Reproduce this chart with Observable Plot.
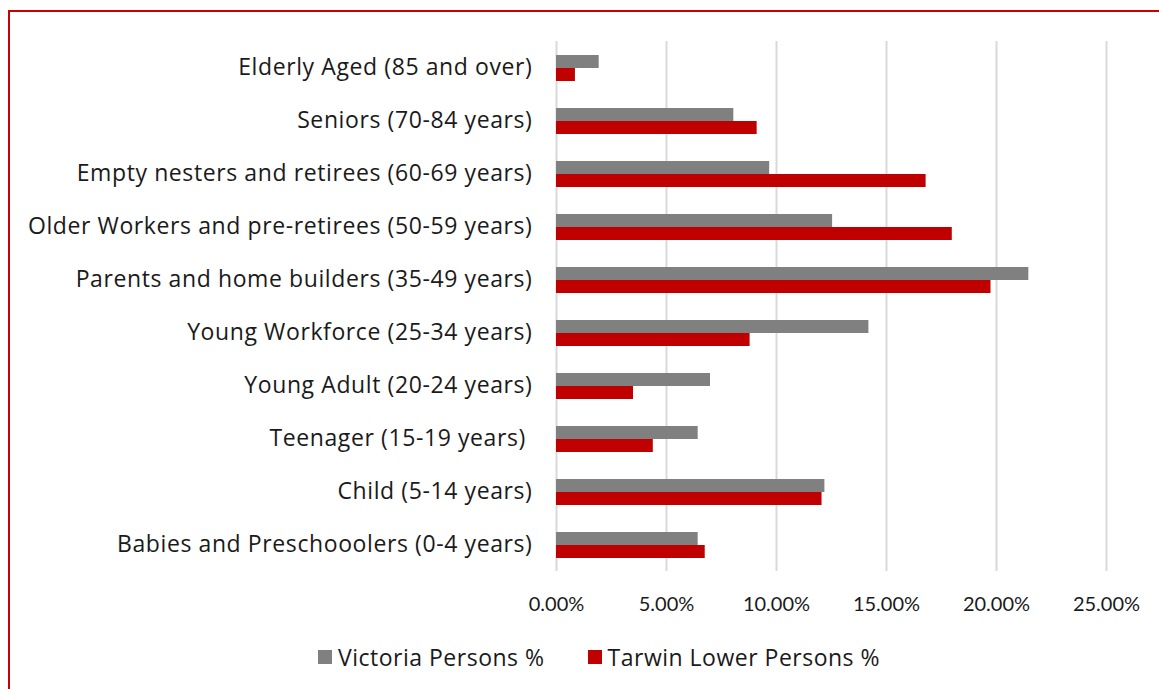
<!DOCTYPE html>
<html>
<head>
<meta charset="utf-8">
<script src="https://cdn.jsdelivr.net/npm/d3@7"></script>
<script src="https://cdn.jsdelivr.net/npm/@observablehq/plot@0.6"></script>
<style>
  html, body { margin: 0; padding: 0; background: #fff; overflow: hidden; width: 1159px; height: 689px; }
  #frame { position: absolute; left: 8px; top: 10px; width: 1170px; height: 700px; border: 2px solid #cc0000; box-sizing: border-box; }
  #chart { position: absolute; left: 0; top: 0; }
  #chart svg g[aria-label="fy-axis tick label"] text { letter-spacing: 0.6px; }
  #legend { position: absolute; left: 318px; top: 641px; display: flex; gap: 43px; font-family: "Open Sans", sans-serif; font-size: 23px; letter-spacing: 0.5px; color: #1a1a1a; }
  #legend .item { display: flex; align-items: center; gap: 6px; }
  #legend .sw { width: 14px; height: 14px; display: inline-block; }
</style>
</head>
<body>
<div id="frame"></div>
<div id="chart"></div>
<div id="legend"></div>
<script>
const categories = [
  "Elderly Aged (85 and over)",
  "Seniors (70-84 years)",
  "Empty nesters and retirees (60-69 years)",
  "Older Workers and pre-retirees (50-59 years)",
  "Parents and home builders (35-49 years)",
  "Young Workforce (25-34 years)",
  "Young Adult (20-24 years)",
  "Teenager (15-19 years) ",
  "Child (5-14 years)",
  "Babies and Preschooolers (0-4 years)"
];
const seriesNames = ["Victoria Persons %", "Tarwin Lower Persons %"];
const victoria = [1.94, 8.06, 9.69, 12.55, 21.47, 14.2, 7.0, 6.44, 12.2, 6.44];
const tarwin   = [0.86, 9.12, 16.8, 17.99, 19.75, 8.8, 3.5, 4.4, 12.07, 6.76];
const colors = ["#808080", "#c00000"];
const xTicks = [0, 0.05, 0.10, 0.15, 0.20, 0.25];

const data = [];
categories.forEach((c, i) => {
  data.push({category: c, series: seriesNames[0], value: victoria[i] / 100});
  data.push({category: c, series: seriesNames[1], value: tarwin[i] / 100});
});

const chart = Plot.plot({
  width: 1159,
  height: 622,
  marginLeft: 556,
  marginRight: 53,
  marginTop: 40,
  marginBottom: 50,
  style: {fontFamily: "Open Sans, sans-serif", background: "transparent", color: "#1a1a1a"},
  x: {domain: [0, 0.25], ticks: xTicks, tickFormat: d3.format(".2%"), label: null},
  fy: {domain: categories, padding: 0, label: null},
  y: {domain: seriesNames, paddingInner: 0, paddingOuter: 0.9, axis: null},
  color: {domain: seriesNames, range: colors},
  marks: [
    Plot.gridX({ticks: xTicks, stroke: "#d9d9d9", strokeOpacity: 1, strokeWidth: 2}),
    Plot.barX(data, {fy: "category", y: "series", x: "value", fill: "series"}),
    Plot.axisX({ticks: xTicks, tickFormat: d3.format(".2%"), tickSize: 0, tickPadding: 25, fontSize: 20, label: null, facetAnchor: "bottom", fontFamily: "Lato, sans-serif"}),
    Plot.axisFy({anchor: "left", tickSize: 0, tickPadding: 24, fontSize: 23, label: null})
  ]
});
document.getElementById("chart").appendChild(chart);

const legend = document.getElementById("legend");
seriesNames.forEach((s, i) => {
  const item = document.createElement("div");
  item.className = "item";
  const sw = document.createElement("span");
  sw.className = "sw";
  sw.style.background = colors[i];
  const t = document.createElement("span");
  t.textContent = s;
  item.appendChild(sw);
  item.appendChild(t);
  legend.appendChild(item);
});
</script>
</body>
</html>
